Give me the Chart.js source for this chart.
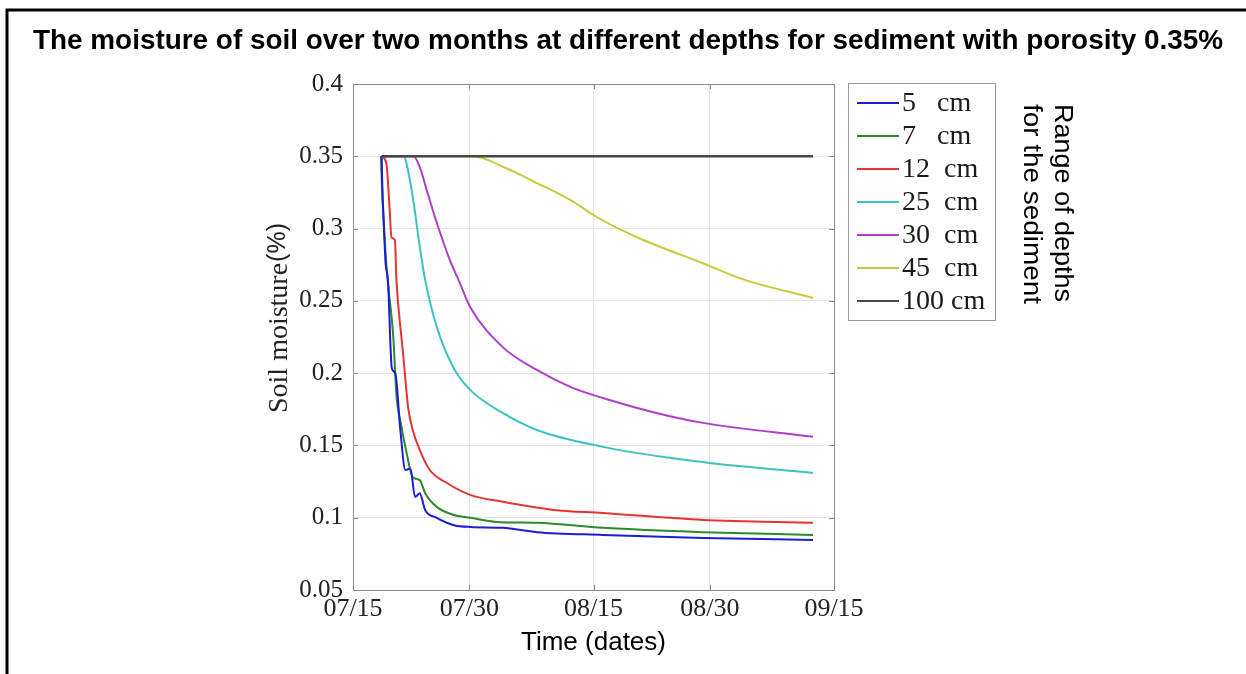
<!DOCTYPE html>
<html>
<head>
<meta charset="utf-8">
<script src="https://cdn.jsdelivr.net/npm/chart.js@4.4.0/dist/chart.umd.min.js"></script>
<style>
  body { margin: 0; background: #fff; }
  canvas { display: block; }
</style>
</head>
<body>
<canvas id="Canvas" width="1246" height="674"></canvas>
<script>
// Dados (x em dias desde 07/15)
const titleText = "The moisture of soil over two months at different depths for sediment with porosity 0.35%";
const depthLabels = ["5   cm", "7   cm", "12  cm", "25  cm", "30  cm", "45  cm", "100 cm"];
const lineColors = ["#1c1cd2", "#2b8a2b", "#e3352e", "#3cc2c2", "#b03ec8", "#c9c93a", "#474747"];

const xTickDays = [0, 15, 31, 46, 62];
const xTickLabels = ["07/15", "07/30", "08/15", "08/30", "09/15"];
const yTicks = [0.05, 0.1, 0.15, 0.2, 0.25, 0.3, 0.35, 0.4];

const days5 = [3.7, 3.75, 4.0, 4.2, 4.5, 5.0, 5.45, 6.1, 6.75, 7.4, 8.0, 8.6, 9.3, 10.8, 12.9, 15.1, 19.3, 23.7, 32.2, 45.1, 59.3];
const moist5 = [0.35, 0.335, 0.30, 0.276, 0.2645, 0.2036, 0.200, 0.1607, 0.133, 0.134, 0.1144, 0.117, 0.1054, 0.0999, 0.095, 0.0936, 0.093, 0.090, 0.0881, 0.086, 0.0846];

const days7 = [3.6, 3.8, 4.3, 5.2, 5.6, 6.25, 6.9, 7.7, 8.6, 9.3, 10.8, 12.9, 15.1, 18.5, 23.7, 32.2, 45.1, 59.3];
const moist7 = [0.35, 0.32, 0.275, 0.2243, 0.185, 0.163, 0.145, 0.128, 0.126, 0.117, 0.1075, 0.102, 0.100, 0.0971, 0.0965, 0.093, 0.090, 0.0881];

const days12 = [3.7, 4.3, 4.75, 4.95, 5.4, 5.6, 6.25, 6.5, 7.1, 7.7, 8.6, 9.9, 12.1, 15.1, 19.3, 25.8, 32.2, 45.1, 59.3];
const moist12 = [0.35, 0.345, 0.311, 0.294, 0.292, 0.2645, 0.2243, 0.211, 0.1767, 0.1607, 0.1469, 0.133, 0.124, 0.1158, 0.111, 0.1054, 0.1033, 0.0985, 0.0965];

const days25 = [3.7, 6.5, 7.4, 8.0, 8.6, 9.3, 10.8, 12.9, 15.1, 19.3, 23.7, 32.2, 40.8, 46.0, 59.3];
const moist25 = [0.35, 0.35, 0.3315, 0.311, 0.2875, 0.2645, 0.232, 0.2043, 0.1884, 0.1725, 0.1607, 0.149, 0.1414, 0.1379, 0.131];

const days30 = [3.7, 7.8, 8.6, 9.5, 10.8, 12.5, 13.6, 15.1, 19.3, 23.7, 28.0, 32.2, 38.7, 45.1, 59.3];
const moist30 = [0.35, 0.35, 0.3426, 0.3267, 0.304, 0.278, 0.2645, 0.2458, 0.218, 0.2022, 0.1905, 0.1828, 0.173, 0.1656, 0.156];

const days45 = [3.7, 15.5, 19.4, 23.7, 28.0, 31.4, 36.6, 45.1, 50.5, 59.3];
const moist45 = [0.35, 0.35, 0.3426, 0.3315, 0.3198, 0.308, 0.294, 0.276, 0.2645, 0.252];

const days100 = [3.7, 59.3];
const moist100 = [0.35, 0.35];

const allDays = [days5, days7, days12, days25, days30, days45, days100];
const allMoist = [moist5, moist7, moist12, moist25, moist30, moist45, moist100];

function toPoints(days, values) {
  return days.map((d, i) => ({ x: d, y: values[i] }));
}

let datasets = [];
for (let i = 0; i < depthLabels.length; i++) {
  datasets.push({
    label: depthLabels[i],
    data: toPoints(allDays[i], allMoist[i]),
    borderColor: lineColors[i],
    borderWidth: i == 6 ? 2.5 : 2,
    cubicInterpolationMode: "monotone",
    pointRadius: 0,
    fill: false,
    order: i == 6 ? -1 : i // linha de 100 cm por cima
  });
}

const serif = '"Liberation Serif", "Times New Roman", serif';
const sans = '"Liberation Sans", Arial, sans-serif';

// texto ajustado a um comprimento fixo
function fitText(ctx, text, x, y, len) {
  const w = ctx.measureText(text).width;
  ctx.save();
  ctx.translate(x, y);
  ctx.scale(len / w, 1);
  ctx.fillText(text, 0, 0);
  ctx.restore();
}

// fundo, moldura, caixa dos eixos, titulo, legenda e textos
const decor = {
  id: "decor",
  beforeDraw(chart) {
    const ctx = chart.ctx;
    ctx.save();
    ctx.fillStyle = "#fff";
    ctx.fillRect(0, 0, chart.width, chart.height);
    ctx.strokeStyle = "#000";
    ctx.lineWidth = 3;
    ctx.beginPath();
    ctx.moveTo(chart.width, 10);
    ctx.lineTo(7, 10);
    ctx.lineTo(7, chart.height);
    ctx.stroke();
    ctx.restore();
  },
  afterDraw(chart) {
    const ctx = chart.ctx;
    const a = chart.chartArea;
    const sx = chart.scales.x;
    const sy = chart.scales.y;
    ctx.save();

    // caixa e marcas para dentro
    ctx.strokeStyle = "#8a8a8a";
    ctx.lineWidth = 1;
    ctx.strokeRect(a.left + 0.5, a.top + 0.5, a.right - a.left, a.bottom - a.top);
    ctx.beginPath();
    xTickDays.forEach(d => {
      const px = Math.round(sx.getPixelForValue(d)) + 0.5;
      ctx.moveTo(px, a.bottom); ctx.lineTo(px, a.bottom - 5);
      ctx.moveTo(px, a.top); ctx.lineTo(px, a.top + 5);
    });
    yTicks.forEach(v => {
      const py = Math.round(sy.getPixelForValue(v)) + 0.5;
      ctx.moveTo(a.left, py); ctx.lineTo(a.left + 5, py);
      ctx.moveTo(a.right, py); ctx.lineTo(a.right - 5, py);
    });
    ctx.stroke();

    // titulo (fonte condensada)
    ctx.fillStyle = "#000";
    ctx.font = "bold 27px " + sans;
    ctx.textAlign = "center";
    ctx.textBaseline = "middle";
    fitText(ctx, titleText, 628, 42, 1190);

    // titulo do eixo y
    ctx.save();
    ctx.translate(280, 413);
    ctx.rotate(-Math.PI / 2);
    ctx.textAlign = "left";
    ctx.fillStyle = "#222";
    ctx.font = "28px " + serif;
    ctx.fillText("Soil moisture", 0, 0);
    const w1 = ctx.measureText("Soil moisture").width;
    ctx.font = "25px " + sans;
    ctx.fillText("(%)", w1 + 1, -2);
    ctx.restore();

    // legenda
    ctx.fillStyle = "#fff";
    ctx.fillRect(848, 83, 147, 237);
    ctx.strokeStyle = "#999";
    ctx.strokeRect(848.5, 83.5, 147, 237);
    ctx.font = "28px " + serif;
    ctx.textAlign = "left";
    chart.data.datasets.forEach((ds, i) => {
      const y = 103 + i * 33;
      ctx.strokeStyle = ds.borderColor;
      ctx.lineWidth = 2;
      ctx.beginPath();
      ctx.moveTo(857, y);
      ctx.lineTo(899, y);
      ctx.stroke();
      ctx.fillStyle = "#1a1a1a";
      ctx.fillText(ds.label, 902, y + 1);
    });

    // texto lateral
    ctx.fillStyle = "#000";
    ctx.font = "25px " + sans;
    ctx.save();
    ctx.translate(1062, 104);
    ctx.rotate(Math.PI / 2);
    fitText(ctx, "Range of depths", 0, 0, 198);
    ctx.restore();
    ctx.save();
    ctx.translate(1031, 104);
    ctx.rotate(Math.PI / 2);
    fitText(ctx, "for the sediment", 0, 0, 200);
    ctx.restore();

    ctx.restore();
  }
};

let ctx = document.getElementById("Canvas").getContext("2d");

new Chart(ctx, {
  type: "line",
  data: { datasets: datasets },
  plugins: [decor],
  options: {
    responsive: false,
    animation: false,
    layout: { padding: { left: 0, right: 412, top: 84, bottom: 16 } },
    plugins: {
      legend: { display: false },
      tooltip: { enabled: false }
    },
    scales: {
      x: {
        type: "linear",
        min: 0,
        max: 62,
        afterBuildTicks: s => { s.ticks = xTickDays.map(v => ({ value: v })); },
        afterFit: s => { s.height = 68; },
        ticks: {
          callback: v => xTickLabels[xTickDays.indexOf(v)],
          font: { family: serif, size: 26 },
          color: "#222",
          padding: 4,
          maxRotation: 0,
          autoSkip: false
        },
        grid: { color: "#e4e4e4", drawTicks: false },
        border: { display: false },
        title: {
          display: true,
          text: "Time (dates)",
          font: { family: sans, size: 26 },
          color: "#000",
          padding: { top: 0, bottom: 0 }
        }
      },
      y: {
        min: 0.05,
        max: 0.4,
        afterBuildTicks: s => { s.ticks = yTicks.map(v => ({ value: v })); },
        afterFit: s => { s.width = 353; },
        ticks: {
          callback: v => String(+v.toFixed(2)),
          font: { family: serif, size: 25 },
          color: "#222",
          padding: 10
        },
        grid: { color: "#e4e4e4", drawTicks: false },
        border: { display: false }
      }
    }
  }
});
</script>
</body>
</html>
